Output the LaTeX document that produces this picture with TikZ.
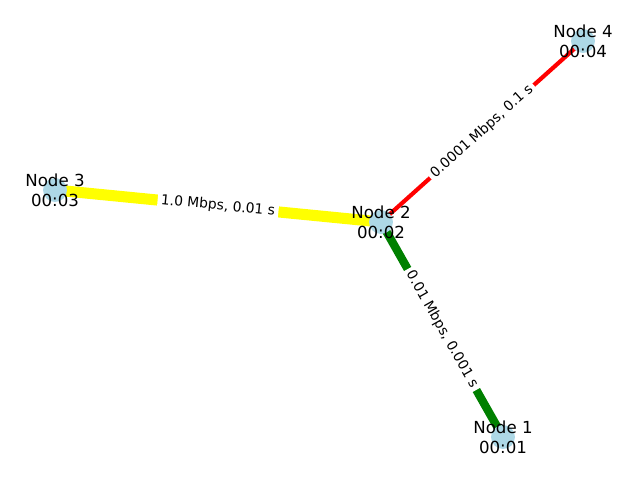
\documentclass[tikz,border=0pt]{standalone}
\usepackage{fontspec}
\setmainfont{DejaVu Sans}
\usetikzlibrary{backgrounds}
\definecolor{lightblue}{HTML}{ADD8E6}
\definecolor{link green}{HTML}{008000}
\definecolor{link yellow}{HTML}{FFFF00}
\tikzstyle{vertex}=[circle,fill=lightblue,minimum size=17.3pt,inner sep=0pt]
\tikzstyle{vertex text}=[align=center,inner sep=0pt,font=\fontsize{12}{14.4}\selectfont]
\tikzstyle{edge} = [draw, -]
\tikzstyle{edge label}=[sloped,fill=white,rounded corners=3pt,inner sep=2.5pt,font=\fontsize{10}{12}\selectfont]
\def\network{{(503,437)/1}, {(381,222)/2}, {(55,190)/3}, {(583,41)/4}}
\def\connect{3/2/link yellow/8pt/{1.0 Mbps, 0.01 s}, 2/1/link green/6pt/{0.01 Mbps, 0.001 s}, 2/4/red/3pt/{0.0001 Mbps, 0.1 s}}

\begin{document}
\begin{tikzpicture}[x=0.01in,y=-0.01in]
    \useasboundingbox (0,0) rectangle (640,480);

    % the hosts
    \foreach \pos/\name in \network
      \node[vertex] (n\name) at \pos {};

    % the links between them
    \begin{scope}[on background layer]
    \foreach \source/\sink/\col/\lw/\txt in \connect
      \path[edge, draw=\col, line width=\lw] (n\source.center) -- (n\sink.center);
    \end{scope}

    % link rates and delays
    \foreach \source/\sink/\col/\lw/\txt in \connect
      \path (n\source.center) -- node[edge label] {\txt} (n\sink.center);

    % host names
    \foreach \pos/\name in \network
      \node[vertex text] (t\name) at (n\name) {Node \name\\00:0\name};
\end{tikzpicture}
\end{document}
